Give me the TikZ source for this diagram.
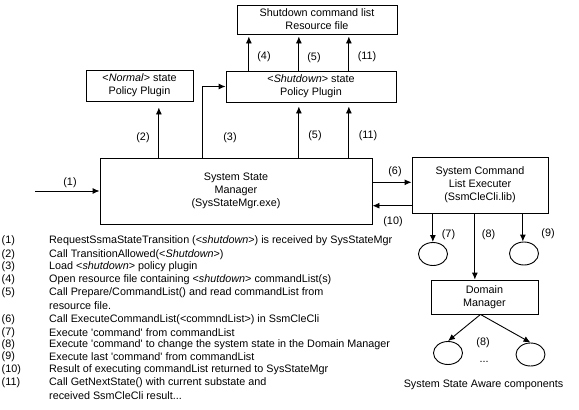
\documentclass[tikz,border=0pt]{standalone}
\usepackage{fontspec}
\setmainfont{Liberation Sans}
\usetikzlibrary{arrows.meta,shapes.geometric}
\begin{document}
\begin{tikzpicture}[x=1pt,y=-1pt,
  every node/.style={font=\fontsize{10.8}{13.2}\selectfont, inner sep=0pt},
  box/.style={draw, line width=0.9pt, align=center},
  ell/.style={draw, ellipse, line width=0.9pt, minimum width=29pt, minimum height=23pt},
  arr/.style={line width=0.9pt, -{Latex[length=7pt,width=6pt]}},
  num/.style={anchor=west},
  txt/.style={anchor=west}]
\fill[white] (0,0) rectangle (579,410);
\useasboundingbox (0,0) rectangle (579,410);

% boxes
\node[box, minimum width=160pt, minimum height=29pt] (res) at (317,19.5) {Shutdown command list\\Resource file};
\node[box, minimum width=170pt, minimum height=31pt] (shut) at (311,86.5) {<\textit{Shutdown}> state\\Policy Plugin};
\node[box, minimum width=107pt, minimum height=31pt] (normal) at (139.5,85.5) {<\textit{Normal}> state\\Policy Plugin};
\node[box, minimum width=272pt, minimum height=66pt] (main) at (236,191) {System State\\Manager\\(SysStateMgr.exe)};
\node[box, minimum width=136pt, minimum height=56pt] (exec) at (480,185) {System Command\\List Executer\\(SsmCleCli.lib)};
\node[box, minimum width=107pt, minimum height=34pt] (dom) at (484.5,297) {Domain\\Manager};
\node[ell] (c7) at (433,254) {};
\node[ell] (c9) at (524,253.5) {};
\node[ell] (c8a) at (448,353) {};
\node[ell] (c8b) at (530.5,354.5) {};

% anchor points
\coordinate (in1) at (35,191);
\path ([xshift=59.3pt]main.north west) coordinate (p2);
\path ([xshift=103.3pt]main.north west) coordinate (p3);
\path ([xshift=199.3pt]main.north west) coordinate (p5);
\path ([xshift=249.3pt]main.north west) coordinate (p11);
\path ([xshift=23.3pt]shut.north west) coordinate (u4);
\path ([xshift=73.3pt]shut.north west) coordinate (u5);
\path ([xshift=123.3pt]shut.north west) coordinate (u11);
\path ([yshift=8.7pt]main.east) coordinate (q6);
\path ([yshift=-14.7pt]main.east) coordinate (q10);
\path ([xshift=21.3pt]exec.south west) coordinate (r7);
\path ([xshift=63.3pt]exec.south west) coordinate (r8);
\path ([xshift=111.3pt]exec.south west) coordinate (r9);
\path ([xshift=-4pt]dom.south) coordinate (s8);

% connectors
\draw[arr] (in1) -- (in1 -| main.west);
\draw[arr, shorten >=6pt] (p2) -- (p2 |- normal.south);
\draw[arr] (p3) |- (shut.west);
\draw[arr, shorten >=4pt] (p5) -- (p5 |- shut.south);
\draw[arr, shorten >=4pt] (p11) -- (p11 |- shut.south);
\draw[arr, shorten >=2pt] (u4) -- (u4 |- res.south);
\draw[arr, shorten >=2pt] (u5) -- (u5 |- res.south);
\draw[arr, shorten >=2pt] (u11) -- (u11 |- res.south);
\draw[arr] (q6) -- (q6 -| exec.west);
\draw[arr] (q10 -| exec.west) -- (q10);
\draw[arr] (r7) -- (r7 |- c7.north);
\draw[arr] (r8) -- (r8 |- dom.north);
\draw[arr] (r9) -- (r9 |- c9.north);
\draw[arr] (s8) -- (c8a.north);
\draw[arr] (s8) -- (c8b.north);

% labels
\node (l1) at (70,183) {(1)};
\node (l2) at (143,137.5) {(2)};
\node (l3) at (230,138) {(3)};
\node (l5b) at (315,136) {(5)};
\node (l11b) at (368,136) {(11)};
\node (l4) at (264,57) {(4)};
\node (l5a) at (314,57.5) {(5)};
\node (l11a) at (367,56.5) {(11)};
\node (l6) at (395,172) {(6)};
\node (l10) at (393,221.5) {(10)};
\node (l7) at (448.5,235) {(7)};
\node (l8) at (488.5,235) {(8)};
\node (l9) at (548,234) {(9)};
\node (l8b) at (483,342.5) {(8)};
\node (dots) at (484,362) {...};
\node (ssac) at (483.5,385) {System State Aware components};

% legend
\node[num] (n1) at (1.5,241) {(1)};
\node[txt] (t1) at (49,241) {RequestSsmaStateTransition (<\textit{shutdown}>) is received by SysStateMgr};
\node[num] (n2) at (1.5,254.3) {(2)};
\node[txt] (t2) at (49,254.3) {Call TransitionAllowed(<\textit{Shutdown}>)};
\node[num] (n3) at (1.5,266.7) {(3)};
\node[txt] (t3) at (49,266.7) {Load <\textit{shutdown}> policy plugin};
\node[num] (n4) at (1.5,280) {(4)};
\node[txt] (t4) at (49,280) {Open resource file containing <\textit{shutdown}> commandList(s)};
\node[num] (n5) at (1.5,292.7) {(5)};
\node[txt] (t5) at (49,292.7) {Call Prepare/CommandList() and read commandList from};
\node[txt] (t5b) at (49,305.7) {resource file.};
\node[num] (n6) at (1.5,319.3) {(6)};
\node[txt] (t6) at (49,319.3) {Call ExecuteCommandList(<commndList>) in SsmCleCli};
\node[num] (n7) at (1.5,332.3) {(7)};
\node[txt] (t7) at (49,332.3) {Execute \textquotesingle command\textquotesingle{} from commandList};
\node[num] (n8) at (1.5,344.7) {(8)};
\node[txt] (t8) at (49,344.7) {Execute \textquotesingle command\textquotesingle{} to change the system state in the Domain Manager};
\node[num] (n9) at (1.5,356.7) {(9)};
\node[txt] (t9) at (49,356.7) {Execute last \textquotesingle command\textquotesingle{} from commandList};
\node[num] (n10) at (1.5,370) {(10)};
\node[txt] (t10) at (49,370) {Result of executing commandList returned to SysStateMgr};
\node[num] (n11) at (1.5,382.7) {(11)};
\node[txt] (t11) at (49,382.7) {Call GetNextState() with current substate and};
\node[txt] (t11b) at (49,396) {received SsmCleCli result...};
\end{tikzpicture}
\end{document}
